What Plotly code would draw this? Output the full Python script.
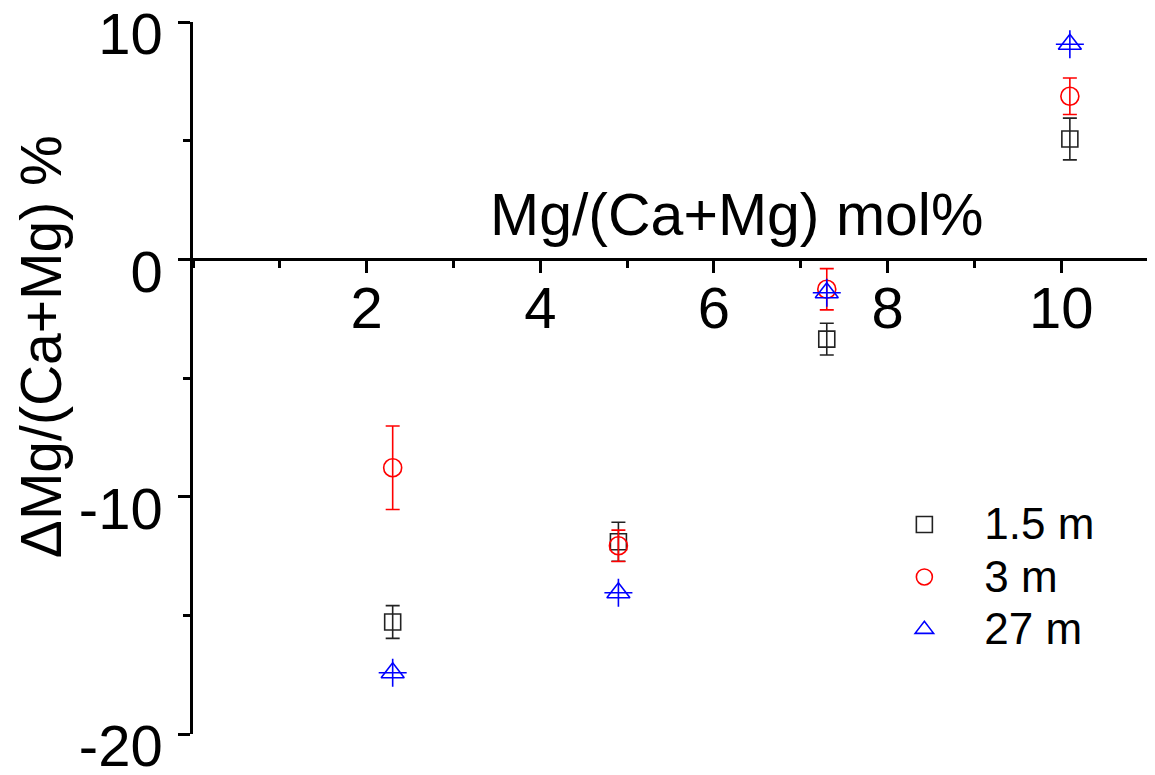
import plotly.graph_objects as go

# ---- data ----
mg_mol = [2.3, 4.9, 7.3, 10.1]
series_names = ["1.5 m", "3 m", "27 m"]
d_15m = [-15.28, -11.9, -3.36, 5.07]
e_15m = [0.69, 0.82, 0.67, 0.88]
d_3m = [-8.78, -12.07, -1.26, 6.87]
e_3m = [1.76, 0.66, 0.87, 0.77]
d_27m = [-17.42, -14.05, -1.41, 9.06]
x_ticks = [2, 4, 6, 8, 10]
y_ticks = [-20, -10, 0, 10]

FONT = "Arial, Liberation Sans, sans-serif"

def leg(name):
    return "<span style='font-size:44px'>" + name + "</span>"

fig = go.Figure()

fig.add_trace(go.Scatter(
    x=mg_mol, y=d_15m, mode="markers", name=leg(series_names[0]),
    marker=dict(symbol="square-open", size=16, color="#222222", line=dict(width=1.6)),
    error_y=dict(type="data", array=e_15m, color="#222222", thickness=1.6, width=7),
))
fig.add_trace(go.Scatter(
    x=mg_mol, y=d_3m, mode="markers", name=leg(series_names[1]),
    marker=dict(symbol="circle-open", size=18, color="#ff0000", line=dict(width=1.6)),
    error_y=dict(type="data", array=e_3m, color="#ff0000", thickness=1.6, width=7),
))
fig.add_trace(go.Scatter(
    x=mg_mol, y=d_27m, mode="markers", name=leg(series_names[2]),
    marker=dict(symbol="triangle-up-open", size=20, color="#0000ff", line=dict(width=1.6)),
))
# cross inside the triangles (small error marks)
fig.add_trace(go.Scatter(
    x=mg_mol, y=d_27m, mode="markers", showlegend=False, hoverinfo="skip",
    marker=dict(symbol="cross-thin", size=20, color="#0000ff", line=dict(width=1.6, color="#0000ff")),
))

fig.update_layout(
    width=1155, height=775,
    margin=dict(l=185, r=15, t=14, b=49),
    paper_bgcolor="white", plot_bgcolor="white",
    font=dict(family=FONT, color="black"),
    showlegend=True,
    legend=dict(
        x=0.703, y=0.338, xanchor="left", yanchor="top",
        font=dict(size=38, family=FONT, color="black"),
        bgcolor="rgba(0,0,0,0)", itemwidth=110, tracegroupgap=0,
    ),
    xaxis=dict(
        range=[0, 11], anchor="free", position=2/3, automargin=False,
        showline=True, linecolor="black", linewidth=2.5,
        showgrid=False, zeroline=False,
        tickmode="array", tickvals=x_ticks, ticktext=[str(v) for v in x_ticks],
        ticks="outside", ticklen=12, tickwidth=2.5, tickcolor="black",
        tickfont=dict(size=58, family=FONT, color="black"),
        ticklabelstandoff=-15,
        minor=dict(dtick=1, tick0=0, ticks="outside", ticklen=7, tickwidth=2.5, tickcolor="black", showgrid=False),
    ),
    yaxis=dict(
        range=[-20, 10], automargin=False,
        showline=True, linecolor="black", linewidth=2.5,
        showgrid=False, zeroline=False,
        tickmode="array", tickvals=y_ticks, ticktext=[str(v) for v in y_ticks],
        ticks="outside", ticklen=12, tickwidth=2.5, tickcolor="black",
        tickfont=dict(size=58, family=FONT, color="black"),
        ticklabelstandoff=4, ticklabelshift=12, ticklabeloverflow="allow",
        minor=dict(dtick=5, tick0=0, ticks="outside", ticklen=7, tickwidth=2.5, tickcolor="black", showgrid=False),
    ),
    annotations=[
        dict(text="Mg/(Ca+Mg) mol%", xref="paper", yref="paper", x=0.5696, y=0.729,
             xanchor="center", yanchor="middle", showarrow=False,
             font=dict(size=59, family=FONT, color="black")),
        dict(text="ΔMg/(Ca+Mg) %", xref="paper", yref="paper", x=-0.159, y=0.5435,
             xanchor="center", yanchor="middle", showarrow=False, textangle=-90,
             font=dict(size=57, family=FONT, color="black")),
    ],
)

fig.write_html("out.html")
